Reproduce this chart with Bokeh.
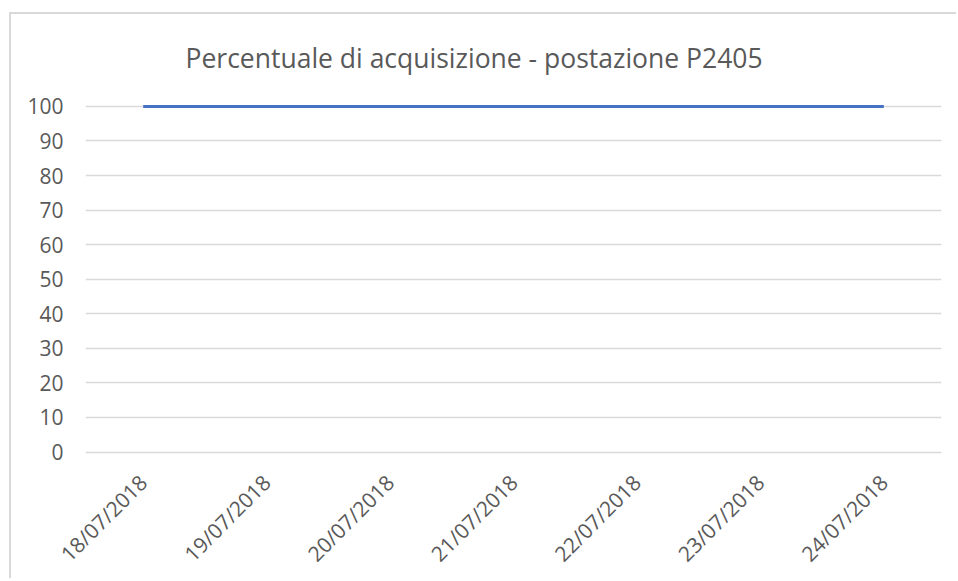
import math
from bokeh.plotting import figure
from bokeh.models import FactorRange, Range1d, FixedTicker
from bokeh.embed import file_html
from bokeh.resources import INLINE

dates = ["18/07/2018", "19/07/2018", "20/07/2018", "21/07/2018",
         "22/07/2018", "23/07/2018", "24/07/2018"]
percent = [100, 100, 100, 100, 100, 100, 100]
y_ticks = [0, 10, 20, 30, 40, 50, 60, 70, 80, 90, 100]

FONT = "Open Sans"
GRAY = "#595959"

p = figure(
    x_range=FactorRange(*dates, range_padding=-0.0325, range_padding_units="absolute"),
    y_range=Range1d(-1, 102),
    width=947, height=566,
    output_backend="svg", toolbar_location=None,
    min_border_left=74, min_border_right=17,
    min_border_top=85, min_border_bottom=122,
    title="Percentuale di acquisizione - postazione P2405",
)
p.styles = {"border-left": "2px solid #d9d9d9", "border-top": "2px solid #d9d9d9",
            "margin-top": "12px", "margin-left": "9px"}

p.title.align = "left"
p.title.offset = 100
p.title.text_font = FONT
p.title.text_font_size = "26.5px"
p.title.text_font_style = "normal"
p.title.text_color = GRAY
p.title.standoff = 47

p.line(dates, percent, line_color="#4472C4", line_width=3)

p.outline_line_color = None
p.background_fill_color = "white"
p.border_fill_color = "white"

p.xgrid.grid_line_color = None
p.ygrid.grid_line_color = "#d9d9d9"
p.ygrid.grid_line_width = 1.5
p.yaxis.ticker = FixedTicker(ticks=y_ticks)

for ax in (p.xaxis, p.yaxis):
    ax.axis_line_color = None
    ax.major_tick_line_color = None
    ax.minor_tick_line_color = None
    ax.major_label_text_font = FONT
    ax.major_label_text_font_size = "21px"
    ax.major_label_text_color = GRAY

p.yaxis.major_tick_out = 0
p.yaxis.major_label_standoff = 22
p.xaxis.major_tick_out = 0
p.xaxis.major_label_standoff = 23
p.xaxis.major_label_orientation = math.pi / 4

open("out.html", "w").write(file_html(p, INLINE))
